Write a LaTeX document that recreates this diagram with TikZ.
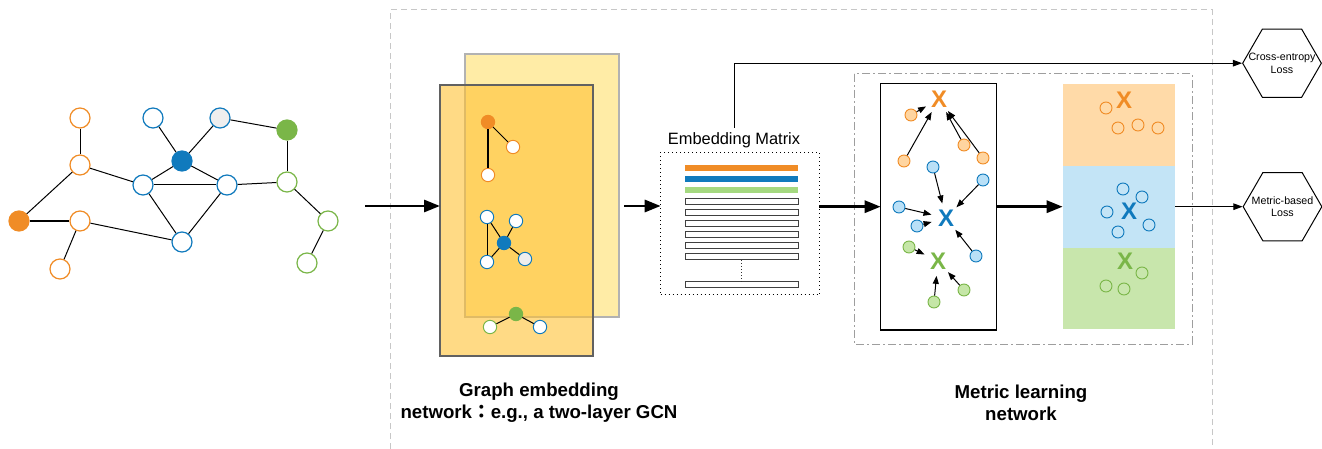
\documentclass[tikz,border=0pt]{standalone}
\usepackage{fontspec}
\setmainfont{Liberation Sans}
\newfontfamily\cjk{Noto Sans CJK JP}
\usetikzlibrary{arrows.meta,shapes.geometric,positioning}
\definecolor{orng}{RGB}{240,140,38}
\definecolor{blu}{RGB}{16,122,189}
\definecolor{grn}{RGB}{122,182,72}
\definecolor{lgray}{RGB}{238,238,238}
\definecolor{lorng}{RGB}{255,213,160}
\definecolor{lblu}{RGB}{185,224,247}
\definecolor{lgrn}{RGB}{197,230,167}
\definecolor{corng}{RGB}{255,218,168}
\definecolor{cblu}{RGB}{195,228,246}
\definecolor{cgrn}{RGB}{200,230,172}
\definecolor{bgrn}{RGB}{165,217,128}
\definecolor{backyel}{RGB}{255,236,166}
\definecolor{frontyel}{RGB}{255,194,51}
\tikzset{
  gnode/.style={circle, line width=0.9pt, minimum size=15pt, inner sep=0pt},
  snode/.style={circle, line width=0.75pt, minimum size=10pt, inner sep=0pt},
  dot/.style={circle, line width=0.7pt, minimum size=9pt, inner sep=0pt},
  edge/.style={black, line width=0.75pt},
  heavy edge/.style={black, line width=1.8pt},
  big arrow/.style={line width=2.2pt, -{Triangle[length=12pt,width=9pt]}},
  thin arrow/.style={line width=0.75pt, -{Triangle[length=7pt,width=5pt]}},
  pull/.style={line width=0.75pt, -{Triangle[length=6pt,width=4.5pt]}},
  centroid/.style={font=\bfseries\fontsize{18}{18}\selectfont, text=#1, circle, inner sep=0pt, minimum size=22pt},
  layer/.style={rectangle, line width=1.5pt, outer sep=0pt},
  ebar/.style={rectangle, inner sep=0pt, minimum width=113*0.75pt, minimum height=5.6*0.75pt},
  wbar/.style={ebar, draw=black!75, line width=0.75pt, fill=white},
  column/.style={rectangle, draw=none, inner sep=0pt, outer sep=0pt, minimum width=112.3*0.75pt, minimum height=81.8*0.75pt},
  loss/.style={regular polygon, regular polygon sides=6, draw, line width=0.75pt, minimum size=59pt, inner sep=0pt},
  loss text/.style={align=center, inner sep=0pt, font=\fontsize{8}{9.25}\selectfont},
  title/.style={align=center, font=\bfseries\fontsize{14}{16.5}\selectfont},
}

\begin{document}
\begin{tikzpicture}[x=0.75pt, y=-0.75pt]
\useasboundingbox (0,0) rectangle (1322,449);

% frames
\draw[black!22, line width=0.75pt, dash pattern=on 4.5pt off 3pt] (390,449) -- (390,10) -- (1212,10) -- (1212,449);
\draw[black!38, line width=0.75pt, dash pattern=on 6pt off 2.5pt on 1pt off 2.5pt] (854,74) rectangle (1192,344);

% input graph
\foreach \n/\x/\y/\c/\f in {o1/80/118/orng/white, o2/80/165/orng/white, o3/19/221/orng/orng,
    o4/80/221/orng/white, o5/60/269/orng/white, b1/153/118/blu/white, g0/220/118/blu/lgray,
    bf/182/161/blu/blu, b2/143/185/blu/white, b3/227/185/blu/white, b4/182/242/blu/white,
    gf/287/130/grn/grn, g2/287/182/grn/white, g3/328/221/grn/white, g4/307/263/grn/white}
  \node[gnode, draw=\c, fill=\f] (\n) at (\x,\y) {};
\foreach \a/\b in {o1/o2, o2/o3, o4/o5, o2/b2, o4/b4, b1/bf, bf/g0, bf/b2, bf/b3,
    b2/b3, b2/b4, b3/b4, b3/g2, g0/gf, gf/g2, g2/g3, g3/g4}
  \draw[edge] (\a) -- (\b);
\draw[heavy edge] (o3) -- (o4);

% GCN layers
\node[layer, draw=black!30, fill=backyel, minimum width=154*0.75pt, minimum height=263*0.75pt] (back) at (542,185.5) {};
\node[layer, draw=black!62, fill=frontyel, fill opacity=0.6, minimum width=153*0.75pt, minimum height=271*0.75pt] (front) at (516.5,220.5) {};
\foreach \n/\x/\y/\c/\f in {go1/488/122/orng/orng, go2/513/147/orng/white, go3/488/175/orng/white,
    gb1/487/217/blu/white, gb2/516/221/blu/white, gbf/504/243/blu/blu, gb3/487/262/blu/white,
    gb4/525/259/blu/lgray, gg1/516/314/grn/grn, gg2/490/327/grn/white, gg3/540/327/blu/white}
  \node[snode, draw=\c, fill=\f] (\n) at (\x,\y) {};
\foreach \a/\b in {go1/go2, gb1/gb3, gb1/gbf, gb2/gbf, gbf/gb3, gbf/gb4, gg1/gg2, gg1/gg3}
  \draw[edge] (\a) -- (\b);
\draw[black, line width=1.4pt] (go1) -- (go3);

% embedding matrix
\node[draw, line width=0.75pt, dash pattern=on 0.75pt off 2.25pt, minimum width=158.6*0.75pt, minimum height=142.7*0.75pt, outer sep=0pt] (emb) at (740,223.6) {};
\node[font=\fontsize{12.3}{14}\selectfont] (embl) at (734,140) {Embedding Matrix};
\node[ebar, fill=orng] (bar1) at (741.5,167.9) {};
\node[ebar, fill=blu] (bar2) at (741.5,179) {};
\node[ebar, fill=bgrn] (bar3) at (741.5,190) {};
\foreach \y [count=\i from 4] in {201.5,212.5,223.5,234.5,245.8,256.8,284.8}
  \node[wbar] (bar\i) at (741.5,\y) {};
\draw[black!80, line width=0.75pt, dash pattern=on 0.75pt off 1.5pt] (bar9) -- (bar10);

% metric learning network
\node[draw, line width=0.9pt, minimum width=116*0.75pt, minimum height=246.7*0.75pt, outer sep=0pt] (mbox) at (938.7,206.7) {};
\node[centroid=orng] (mxo) at (939,99) {X};
\node[centroid=blu] (mxb) at (946,218) {X};
\node[centroid=grn] (mxg) at (938,261) {X};
\foreach \x/\y [count=\i] in {911/115, 904/161, 964/145, 983/158} {
  \node[dot, draw=orng, fill=lorng] (mo\i) at (\x,\y) {};
  \draw[pull] (mo\i) -- (mxo);
}
\foreach \x/\y [count=\i] in {933/167, 983/180, 899/207, 917/226, 976/256} {
  \node[dot, draw=blu, fill=lblu] (mb\i) at (\x,\y) {};
  \draw[pull] (mb\i) -- (mxb);
}
\foreach \x/\y [count=\i] in {909/247, 964/290, 934/302} {
  \node[dot, draw=grn, fill=lgrn] (mg\i) at (\x,\y) {};
  \draw[pull] (mg\i) -- (mxg);
}

% embedding space
\node[column, fill=corng] (colo) at (1118.85,124.85) {};
\node[column, fill=cblu] (colb) at (1118.85,206.7) {};
\node[column, fill=cgrn] (colg) at (1118.85,288.5) {};
\node[centroid=orng] (cxo) at (1124,100) {X};
\node[centroid=blu] (cxb) at (1129,211) {X};
\node[centroid=grn] (cxg) at (1125,261) {X};
\foreach \x/\y [count=\i] in {1106/108, 1118/128, 1138/125, 1158/128}
  \node[dot, draw=orng] (co\i) at (\x,\y) {};
\foreach \x/\y [count=\i] in {1123/189, 1142/197, 1107/212, 1149/225, 1118/232}
  \node[dot, draw=blu] (cb\i) at (\x,\y) {};
\foreach \x/\y [count=\i] in {1142/273, 1106/286, 1124/289}
  \node[dot, draw=grn] (cg\i) at (\x,\y) {};

% losses
\node[loss] (ce) at (1282,63.2) {};
\node[loss text] (cet) at (ce) {Cross-entropy\\Loss};
\node[loss] (ml) at (1282.5,206.7) {};
\node[loss text] (mlt) at (ml) {Metric-based\\Loss};

% flow
\coordinate (src) at (365,206);
\coordinate (gcnout) at (624,206);
\draw[big arrow] (src) -- (src -| front.west);
\draw[big arrow] (gcnout) -- (gcnout -| emb.west);
\draw[big arrow] (mbox.west -| emb.east) -- (mbox.west);
\draw[big arrow] (mbox.east) -- (colb.west);
\draw[thin arrow] (colb.east) -- (ml);
\draw[thin arrow] (embl.north) |- (ce);

% titles
\node[title] (gtitle) at (539,403) {Graph embedding\\network{\cjk ：}e.g., a two-layer GCN};
\node[title] (mtitle) at (1021,403) {Metric learning\\network};
\end{tikzpicture}
\end{document}
